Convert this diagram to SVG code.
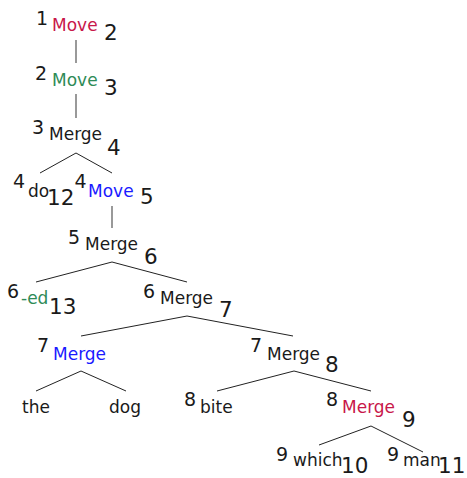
<svg xmlns="http://www.w3.org/2000/svg" width="467" height="478" viewBox="0 0 467 478">
<style>
text{font-family:"DejaVu Sans",sans-serif;fill:#1a1a1a}
.l{font-size:17px}
.a{font-size:19px}
.b{font-size:21.5px}
.red{fill:#c8174a}
.green{fill:#2e8b57}
.blue{fill:#1a1aff}
.e{stroke:#222;stroke-width:1;fill:none}
.v{stroke:#555;stroke-width:1.2;fill:none}
</style>
<rect width="467" height="478" fill="#fff"/>
<g id="connectors">
<line class="v" x1="76" y1="40" x2="76" y2="63"/>
<line class="v" x1="76" y1="94" x2="76" y2="118"/>
<polyline class="e" points="40,173 76,153 112,173"/>
<line class="v" x1="112" y1="206" x2="112" y2="228"/>
<polyline class="e" points="36,282 112,262 187,282"/>
<polyline class="e" points="81,336 187,316 293,336"/>
<polyline class="e" points="36,391 81,371 126,391"/>
<polyline class="e" points="217,391 294,371 371,391"/>
<polyline class="e" points="319,445 371,426 423,452"/>
</g>
<g id="n1"><text class="a" x="36" y="25">1</text><text class="l red" x="52" y="31">Move</text><text class="b" x="104" y="40">2</text></g>
<g id="n2"><text class="a" x="35" y="80">2</text><text class="l green" x="52" y="86">Move</text><text class="b" x="104" y="95">3</text></g>
<g id="n3"><text class="a" x="32" y="134">3</text><text class="l" x="49" y="140">Merge</text><text class="b" x="107" y="155">4</text></g>
<g id="n4"><text class="a" x="13" y="188">4</text><text class="l" x="28" y="197">do</text><text class="b" x="47" y="205">12</text></g>
<g id="n5"><text class="a" x="74.5" y="188">4</text><text class="l blue" x="88" y="197">Move</text><text class="b" x="140" y="204">5</text></g>
<g id="n6"><text class="a" x="68" y="244">5</text><text class="l" x="85" y="250">Merge</text><text class="b" x="144" y="264">6</text></g>
<g id="n7"><text class="a" x="7" y="298">6</text><text class="l green" x="21" y="304">-ed</text><text class="b" x="49" y="314">13</text></g>
<g id="n8"><text class="a" x="143" y="298">6</text><text class="l" x="160" y="304">Merge</text><text class="b" x="219" y="317">7</text></g>
<g id="n9"><text class="a" x="37" y="352">7</text><text class="l blue" x="53" y="360">Merge</text></g>
<g id="n10"><text class="a" x="250" y="352">7</text><text class="l" x="267" y="360">Merge</text><text class="b" x="325" y="372">8</text></g>
<g id="n11"><text class="l" x="22" y="413">the</text></g>
<g id="n12"><text class="l" x="109" y="413">dog</text></g>
<g id="n13"><text class="a" x="184" y="406">8</text><text class="l" x="200" y="413">bite</text></g>
<g id="n14"><text class="a" x="326" y="406">8</text><text class="l red" x="342" y="413">Merge</text><text class="b" x="402" y="427">9</text></g>
<g id="n15"><text class="a" x="276" y="461">9</text><text class="l" x="293" y="466">which</text><text class="b" x="341" y="473">10</text></g>
<g id="n16"><text class="a" x="387" y="461">9</text><text class="l" x="403" y="466">man</text><text class="b" x="438" y="473">11</text></g>
</svg>
